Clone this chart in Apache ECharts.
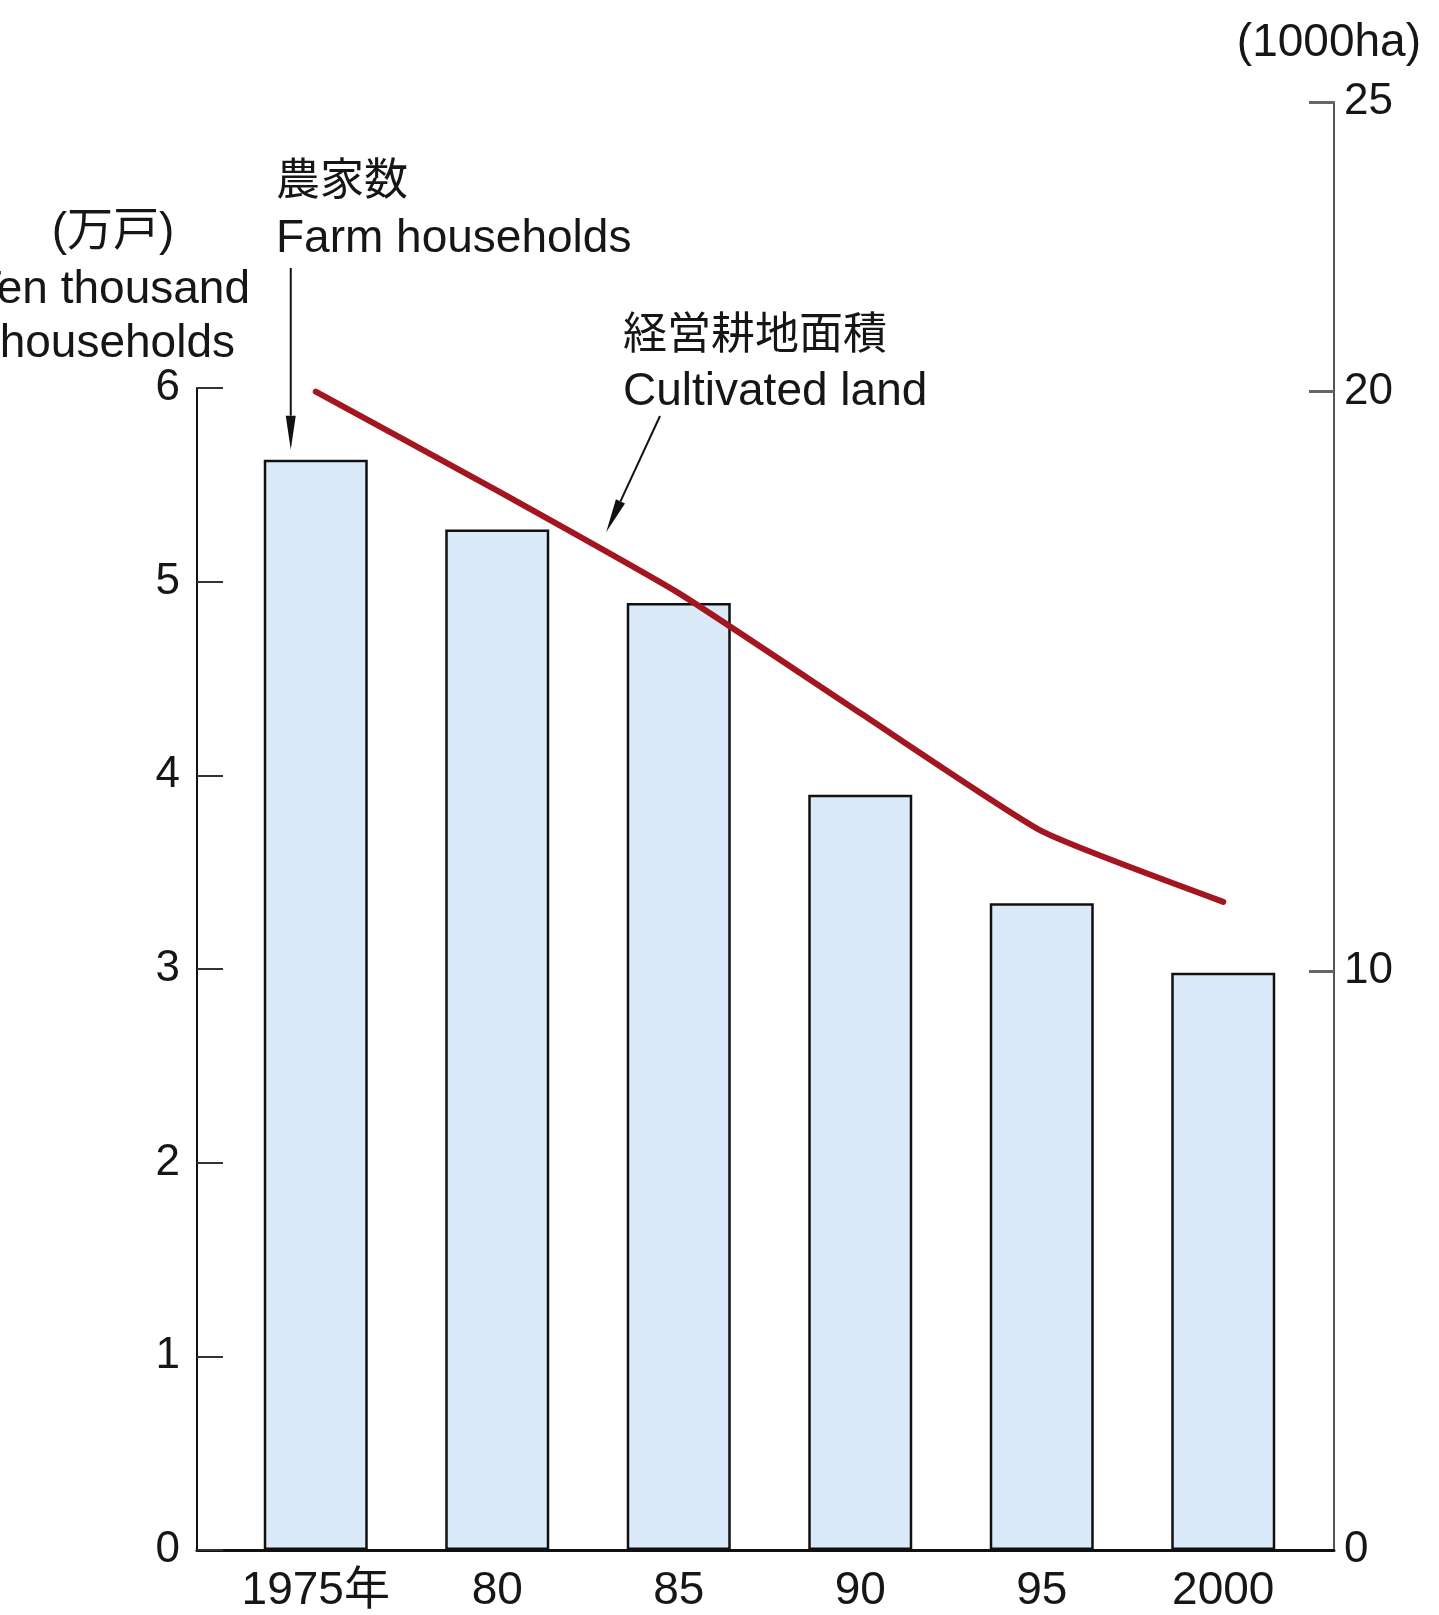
<!DOCTYPE html>
<html>
<head>
<meta charset="utf-8">
<script src="https://cdn.jsdelivr.net/npm/echarts@6/dist/echarts.min.js"></script>
<style>
  html, body { margin: 0; padding: 0; background: #ffffff; }
  #chart { width: 1439px; height: 1615px; }
</style>
</head>
<body>
<div id="chart"></div>
<script>
// ---- data ----
const years = ['1975年', '80', '85', '90', '95', '2000'];
const households = [5.63, 5.27, 4.89, 3.90, 3.34, 2.98];   // 万戸 (ten thousand households)
const land = [20.0, 18.29, 16.52, 14.45, 12.41, 11.19];    // 1000ha
const leftTicks = [0, 1, 2, 3, 4, 5, 6];
const rightLabels = [0, 10, 20, 25];
const rightTickMarks = [10, 20, 25];

const FONT = "'Liberation Sans', Arial, 'Noto Sans CJK JP', sans-serif";
const INK = '#161616';

const chart = echarts.init(document.getElementById('chart'), null, { renderer: 'canvas' });

const option = {
  backgroundColor: '#ffffff',
  animation: false,
  grid: [
    { left: 225, top: 388, width: 1089, height: 1162 },
    { left: 225, top: 102, width: 1089, height: 1448 },
    { left: 197, top: 388, width: 1137, height: 1162 }
  ],
  xAxis: [
    {
      gridIndex: 0, type: 'category', data: years,
      axisLine: { show: false }, axisTick: { show: false },
      axisLabel: { interval: 0, fontSize: 46, color: INK, margin: 18, fontFamily: FONT }
    },
    { gridIndex: 1, type: 'category', data: years, show: false },
    {
      gridIndex: 2, type: 'value', min: 0, max: 1,
      axisLine: { show: true, lineStyle: { color: '#111', width: 3 } },
      axisTick: { show: false }, axisLabel: { show: false }, splitLine: { show: false }
    }
  ],
  yAxis: [
    {
      gridIndex: 0, type: 'value', min: 0, max: 6, interval: 1, position: 'left', offset: 28,
      axisLine: { show: true, lineStyle: { color: '#111', width: 2 } },
      axisTick: { show: true, inside: true, length: 26, customValues: leftTicks, lineStyle: { color: '#333', width: 2 } },
      axisLabel: { fontSize: 44, color: INK, margin: 17, fontFamily: FONT, customValues: leftTicks },
      splitLine: { show: false }
    },
    {
      gridIndex: 1, type: 'value', min: 0, max: 25, interval: 5, position: 'right', offset: 20,
      axisLine: { show: true, lineStyle: { color: '#555', width: 2 } },
      axisTick: { show: true, inside: true, length: 25, customValues: rightTickMarks, lineStyle: { color: '#666', width: 3 } },
      axisLabel: { fontSize: 44, color: INK, margin: 10, fontFamily: FONT, customValues: rightLabels },
      splitLine: { show: false }
    },
    { gridIndex: 2, type: 'value', min: 0, max: 1, show: false }
  ],
  series: [
    {
      type: 'bar', xAxisIndex: 0, yAxisIndex: 0, data: households, barWidth: 104,
      itemStyle: { color: '#dbeaf8', borderColor: '#111', borderWidth: 2.5 },
      z: 2
    },
    {
      type: 'line', xAxisIndex: 1, yAxisIndex: 1, data: land,
      symbol: 'none', smooth: 0.15,
      lineStyle: { color: '#a3151f', width: 6, cap: 'round', join: 'round' },
      z: 5
    }
  ],
  graphic: [
    { type: 'text', right: 18, top: 20, style: { text: '(1000ha)', font: '46px ' + FONT, fill: INK } },
    { type: 'text', x: 113, y: 232, style: { text: '(万戸)', font: '46px ' + FONT, fill: INK, align: 'center', verticalAlign: 'middle' } },
    { type: 'text', x: 250, y: 290, style: { text: 'Ten thousand', font: '46px ' + FONT, fill: INK, align: 'right', verticalAlign: 'middle' } },
    { type: 'text', x: 235, y: 344, style: { text: 'households', font: '46px ' + FONT, fill: INK, align: 'right', verticalAlign: 'middle' } },
    { type: 'text', x: 276, y: 183, style: { text: '農家数', font: '44px ' + FONT, fill: INK, align: 'left', verticalAlign: 'middle' } },
    { type: 'text', x: 276, y: 239, style: { text: 'Farm households', font: '46px ' + FONT, fill: INK, align: 'left', verticalAlign: 'middle' } },
    { type: 'text', x: 623, y: 337, style: { text: '経営耕地面積', font: '44px ' + FONT, fill: INK, align: 'left', verticalAlign: 'middle' } },
    { type: 'text', x: 623, y: 392, style: { text: 'Cultivated land', font: '46px ' + FONT, fill: INK, align: 'left', verticalAlign: 'middle' } }
  ]
};

chart.setOption(option);

// ---- annotation arrows anchored to data positions ----
function arrow(tail, tip) {
  const dx = tip[0] - tail[0], dy = tip[1] - tail[1];
  const len = Math.sqrt(dx * dx + dy * dy);
  const ux = dx / len, uy = dy / len;
  const hl = 34, hw = 5;
  const bx = tip[0] - ux * hl, by = tip[1] - uy * hl;
  return [
    { type: 'line', shape: { x1: tail[0], y1: tail[1], x2: bx, y2: by }, style: { stroke: '#111', lineWidth: 2 }, z: 10 },
    { type: 'polygon', shape: { points: [tip, [bx - uy * hw, by + ux * hw], [bx + uy * hw, by - ux * hw]] }, style: { fill: '#111' }, z: 10 }
  ];
}

const pBar = chart.convertToPixel({ xAxisIndex: 0, yAxisIndex: 0 }, [0, households[0]]);
const pA = chart.convertToPixel({ xAxisIndex: 1, yAxisIndex: 1 }, [1, land[1]]);
const pB = chart.convertToPixel({ xAxisIndex: 1, yAxisIndex: 1 }, [2, land[2]]);
const t = 0.6;
const mid = [pA[0] + (pB[0] - pA[0]) * t, pA[1] + (pB[1] - pA[1]) * t];

const farmTip = [pBar[0] - 25, pBar[1] - 10];
const farmTail = [pBar[0] - 25, 268];
const landTip = [mid[0], mid[1] - 20];
const landTail = [660, 416];

const extra = [].concat(arrow(farmTail, farmTip), arrow(landTail, landTip));
chart.setOption({ graphic: option.graphic.concat(extra) });
</script>
</body>
</html>
